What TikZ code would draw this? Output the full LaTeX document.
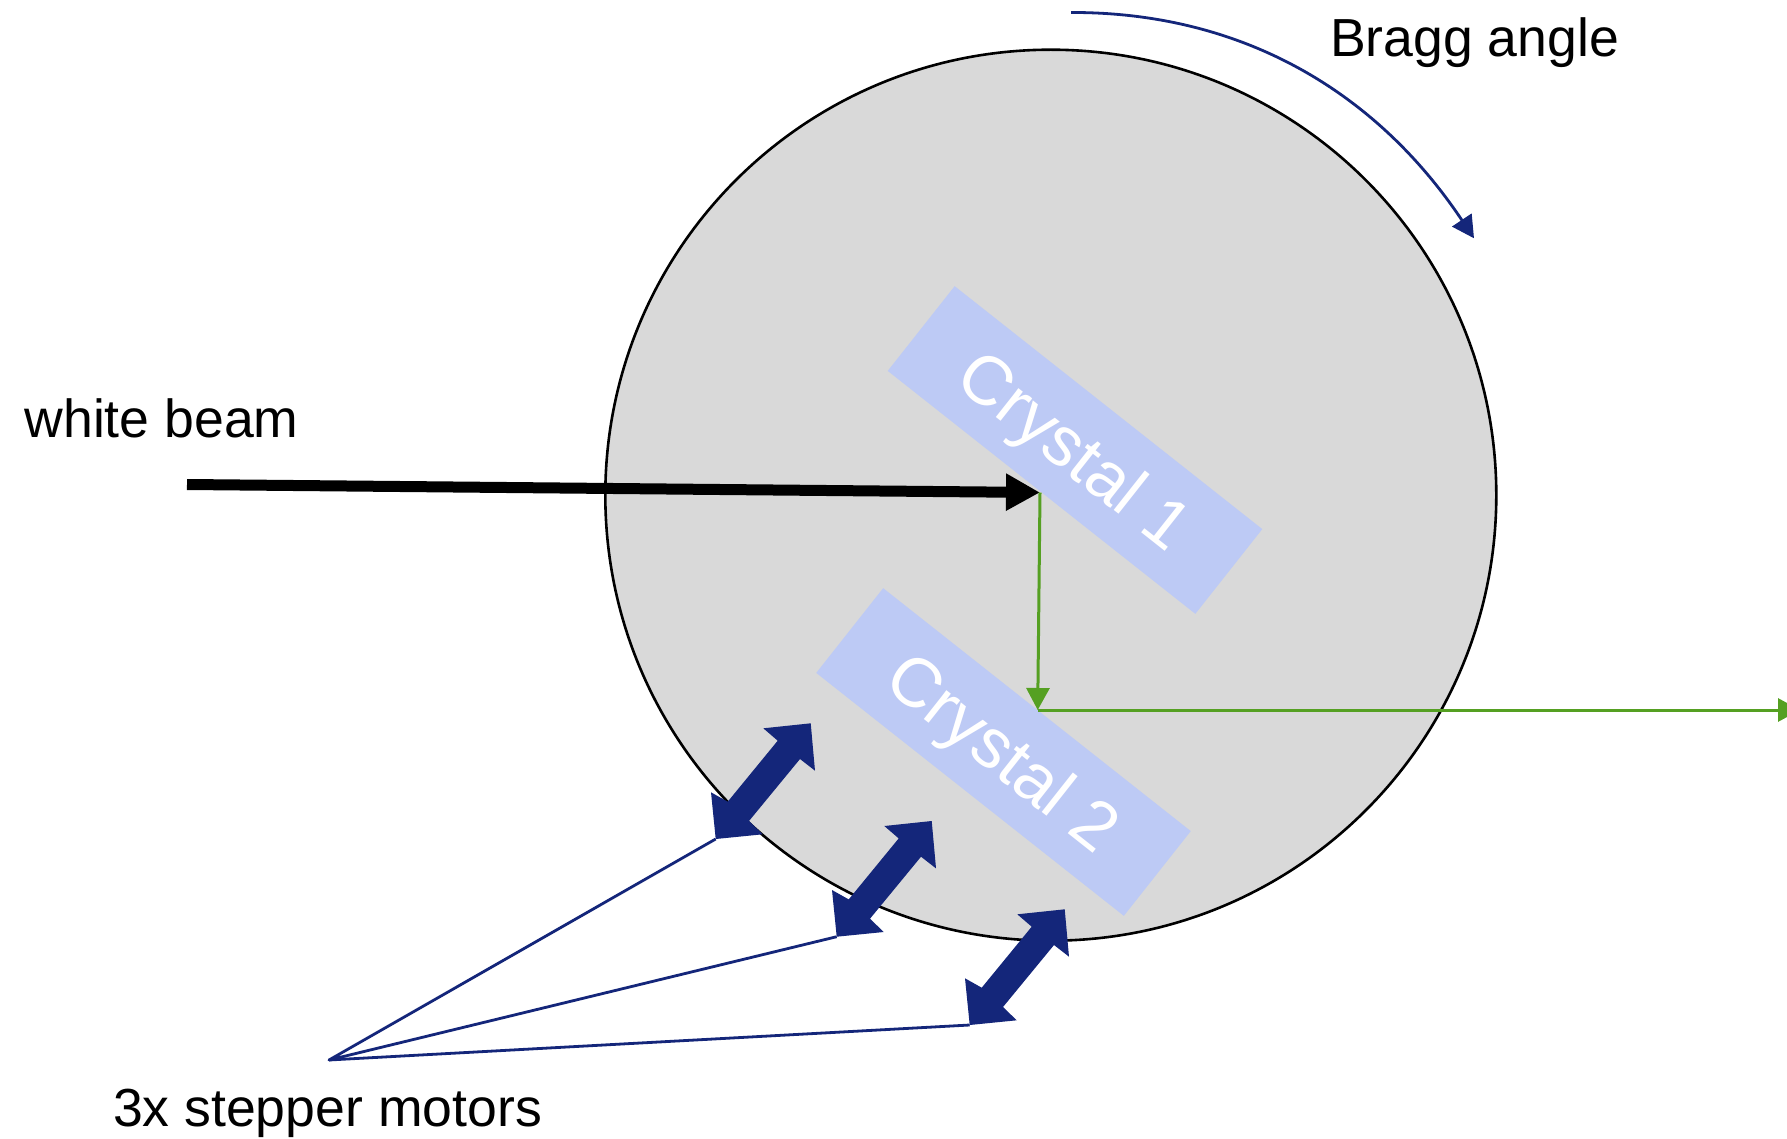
\documentclass[tikz,border=0pt]{standalone}
\usepackage{fontspec}
\setmainfont{Liberation Sans}
\usetikzlibrary{arrows.meta}
\definecolor{discgrey}{HTML}{D9D9D9}
\definecolor{crystalblue}{HTML}{BDCAF5}
\definecolor{navy}{HTML}{14267A}
\definecolor{beamgreen}{HTML}{55A022}
\tikzset{
  label text/.style={inner sep=0pt,outer sep=0pt,anchor=base west,font=\fontsize{26.8}{30}\selectfont,text=black},
  crystal/.style={fill=crystalblue,minimum width=196pt,minimum height=54pt,inner sep=0pt,outer sep=0pt,rotate=-38.3,text=white,font=\fontsize{34.7}{38}\selectfont},
  disc/.style={circle,draw=black,line width=1.3pt,fill=discgrey,minimum size=891*0.5pt,inner sep=0pt,outer sep=0pt},
  whitebeam/.style={line width=5.5pt,black,-{Triangle[length=17pt,width=17.5pt]}},
  greenbeam/.style={line width=1.5pt,beamgreen,-{Triangle[length=11pt,width=11.5pt]}},
  pointer/.style={line width=1.4pt,navy,line join=round},
  motor/.pic={
    \fill[navy] (0,0) -- (47,-4.7) -- (33.3,-18) -- (84.3,-80) -- (99.3,-68.3) -- (95,-115.7)
      -- (47.6,-110.7) -- (62,-98.3) -- (12,-37.3) -- (-4.7,-46.7) -- cycle;
  }
}
\begin{document}
\begin{tikzpicture}[x=0.5pt,y=-0.5pt]
\useasboundingbox (0,0) rectangle (1787,1139);
\clip (0,0) rectangle (1787,1139);
\node[disc] (table) at (1050.8,495.2) {};
\node[crystal] (c1) at (1075,450) {\raisebox{-11.8pt}[0pt][0pt]{Crystal 1}};
\node[crystal] (c2) at (1003.5,752) {\raisebox{-11.8pt}[0pt][0pt]{Crystal 2}};
\coordinate (beamstart) at (187,484.5);
\coordinate (hit1) at (1040,492.5);
\coordinate (hit2) at (1037.7,710);
\coordinate (beamout) at (1800,710);
\coordinate (arcstart) at (1071,12.5);
\coordinate (arcend) at (1474,238.3);
\coordinate (hub) at (329,1060);
\coordinate (m1) at (715.7,839);
\coordinate (m2) at (836.7,936.7);
\coordinate (m3) at (969.7,1025);
\draw[whitebeam] (beamstart) -- (hit1);
\draw[greenbeam] (hit1) -- (hit2);
\draw[greenbeam] (hit2) -- (beamout);
\draw[pointer,-{Triangle[length=11pt,width=11.5pt]}] (arcstart) .. controls (1240,12) and (1375,90) .. (arcend);
\pic at (m1) {motor};
\pic at (m2) {motor};
\pic at (m3) {motor};
\draw[pointer] (m1) -- (hub) -- (m2);
\draw[pointer] (hub) -- (m3);
\node[label text] (bragg) at (1330,56.5) {Bragg angle};
\node[label text] (wb) at (24.5,437) {white beam};
\node[label text] (steppers) at (113,1126) {3x stepper motors};
\end{tikzpicture}
\end{document}
